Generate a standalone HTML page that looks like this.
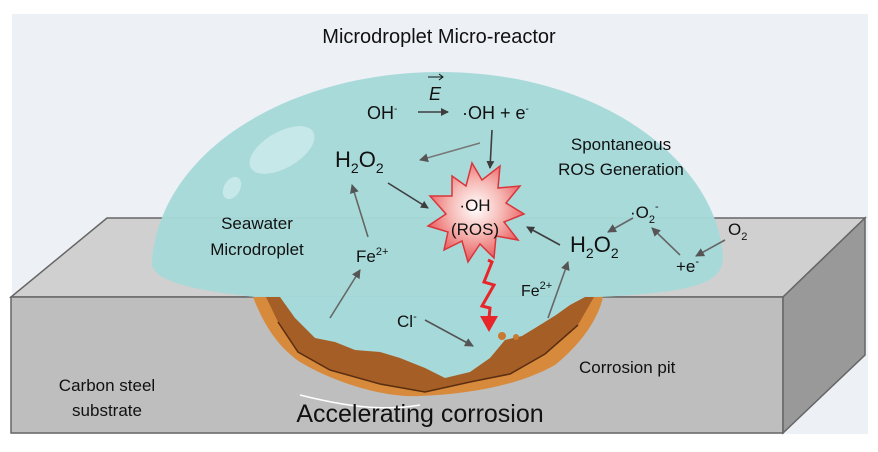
<!DOCTYPE html>
<html><head><meta charset="utf-8"><style>
html,body{margin:0;padding:0;background:#fff;}
svg{display:block;font-family:"Liberation Sans",sans-serif;}
</style></head><body>
<svg width="878" height="452" viewBox="0 0 878 452" xmlns="http://www.w3.org/2000/svg">
<defs>
<marker id="a" markerWidth="8" markerHeight="8" refX="7" refY="4" orient="auto" markerUnits="userSpaceOnUse"><path d="M0,0 L8,4 L0,8 z" fill="#3d3d3d"/></marker>
<marker id="g" markerWidth="9" markerHeight="9" refX="8" refY="4.5" orient="auto" markerUnits="userSpaceOnUse"><path d="M0,0 L9,4.5 L0,9 z" fill="#555"/></marker>
<radialGradient id="st" cx="0.5" cy="0.45" r="0.55"><stop offset="0" stop-color="#fff"/><stop offset="0.5" stop-color="#f6b8b4"/><stop offset="1" stop-color="#e8585a"/></radialGradient>
</defs>
<rect x="12" y="14" width="856" height="420" fill="#edf1f5"/>
<polygon points="107,218 865,218 783,297 11,297" fill="#d0d0d0" stroke="#666" stroke-width="1.5"/>
<polygon points="11,297 783,297 783,433 11,433" fill="#bebebe" stroke="#666" stroke-width="1.5"/>
<polygon points="783,297 865,218 865,355 783,433" fill="#999" stroke="#666" stroke-width="1.5"/>
<path d="M255,297 C190,290 150,280 152,262 C160,150 290,72 440,72 C600,72 715,160 723,255 C725,285 690,292 600,297 Z" fill="#a6d9d9" opacity="0.97"/>
<ellipse cx="282" cy="150" rx="36" ry="18" transform="rotate(-30 282 150)" fill="#c7e8e8"/>
<ellipse cx="232" cy="188" rx="8" ry="12" transform="rotate(30 232 188)" fill="#c7e8e8"/>
<path d="M253,297 C262,320 275,345 300,362 C330,380 380,398 420,396 C470,394 520,385 555,365 C580,345 598,320 603,297 Z" fill="#d88a3c"/>
<path d="M266,297 L278,322 L298,352 L330,370 L380,384 L425,392 L470,382 L510,374 L545,354 L578,325 L594,297 Z" fill="#a55e26"/>
<path d="M280,297 L295,318 L315,338 L335,342 L355,350 L380,352 L400,358 L425,368 L445,378 L470,372 L490,358 L505,340 L522,336 L540,325 L556,315 L570,305 L585,297 Z" fill="#a6d9d9"/>
<path d="M278,322 L298,352 L330,370 L380,384 L425,392 L470,382 L510,374 L545,354 L578,325" fill="none" stroke="#5a2e10" stroke-width="1.5"/>
<path d="M300,395 C340,405 380,412 420,405" fill="none" stroke="#fff" stroke-width="1.5"/>
<circle cx="502" cy="336" r="4" fill="#c87a30"/><circle cx="516" cy="337" r="3" fill="#c87a30"/>
<polygon points="472,163 482,180 500,166 498,188 520,186 506,203 524,214 504,222 518,240 496,236 494,258 480,244 468,262 462,241 444,250 448,232 428,226 446,214 430,196 452,196 452,176 466,186" fill="url(#st)" stroke="#d9363b" stroke-width="1.5"/>
<path d="M488,260 L492,262 L484,282 L494,285 L482,306 L490,308 L489,318" fill="none" stroke="#e8262a" stroke-width="3"/>
<polygon points="480,316 498,316 489,332" fill="#e8262a"/>
<g stroke="#3d3d3d" stroke-width="1.6" fill="none">
<line x1="418" y1="112" x2="448" y2="112" marker-end="url(#a)"/>
<line x1="492" y1="130" x2="490" y2="168" marker-end="url(#a)"/>
<line x1="388" y1="183" x2="428" y2="208" marker-end="url(#a)"/>
<line x1="560" y1="245" x2="527" y2="227" marker-end="url(#a)"/>
<line x1="480" y1="143" x2="420" y2="160" stroke="#777" marker-end="url(#g)"/>
<line x1="368" y1="237" x2="352" y2="185" stroke="#666" marker-end="url(#g)"/>
<line x1="330" y1="318" x2="360" y2="270" stroke="#666" marker-end="url(#g)"/>
<line x1="548" y1="318" x2="568" y2="262" stroke="#666" marker-end="url(#g)"/>
<line x1="425" y1="320" x2="473" y2="346" stroke="#555" marker-end="url(#g)"/>
<line x1="633" y1="218" x2="608" y2="232" stroke="#666" marker-end="url(#g)"/>
<line x1="680" y1="255" x2="652" y2="228" stroke="#666" marker-end="url(#g)"/>
<line x1="725" y1="240" x2="696" y2="256" stroke="#666" marker-end="url(#g)"/>
</g>
<g fill="#111">
<text x="439" y="43" font-size="20" text-anchor="middle">Microdroplet Micro-reactor</text>
<text x="435" y="100" font-size="18" font-style="italic" text-anchor="middle">E</text>
<path d="M428,77 L442,77" stroke="#111" stroke-width="1"/><path d="M439,74 L443,77 L439,80" fill="none" stroke="#111" stroke-width="1"/>
<text x="367" y="119" font-size="18">OH<tspan font-size="10" dy="-7">-</tspan></text>
<text x="462" y="119" font-size="18">·OH + e<tspan font-size="10" dy="-7">-</tspan></text>
<text x="621" y="150" font-size="17" text-anchor="middle">Spontaneous</text>
<text x="621" y="175" font-size="17" text-anchor="middle">ROS Generation</text>
<text x="335" y="167" font-size="22">H<tspan font-size="14" dy="6">2</tspan><tspan dy="-6">O</tspan><tspan font-size="14" dy="6">2</tspan></text>
<text x="475" y="211" font-size="17" text-anchor="middle">·OH</text>
<text x="475" y="235" font-size="17" text-anchor="middle">(ROS)</text>
<text x="570" y="252" font-size="22">H<tspan font-size="14" dy="6">2</tspan><tspan dy="-6">O</tspan><tspan font-size="14" dy="6">2</tspan></text>
<text x="630" y="218" font-size="17">·O<tspan font-size="11" dy="5">2</tspan><tspan font-size="11" dy="-13">-</tspan></text>
<text x="676" y="272" font-size="17">+e<tspan font-size="11" dy="-7">-</tspan></text>
<text x="728" y="235" font-size="17">O<tspan font-size="11" dy="5">2</tspan></text>
<text x="257" y="229" font-size="17" text-anchor="middle">Seawater</text>
<text x="257" y="255" font-size="17" text-anchor="middle">Microdroplet</text>
<text x="356" y="262" font-size="17">Fe<tspan font-size="11" dy="-7">2+</tspan></text>
<text x="521" y="296" font-size="16">Fe<tspan font-size="11" dy="-7">2+</tspan></text>
<text x="397" y="327" font-size="17">Cl<tspan font-size="11" dy="-7">-</tspan></text>
<text x="579" y="373" font-size="17">Corrosion pit</text>
<text x="107" y="391" font-size="17" text-anchor="middle">Carbon steel</text>
<text x="107" y="416" font-size="17" text-anchor="middle">substrate</text>
<text x="420" y="422" font-size="25" text-anchor="middle">Accelerating corrosion</text>
</g>
</svg>
</body></html>
